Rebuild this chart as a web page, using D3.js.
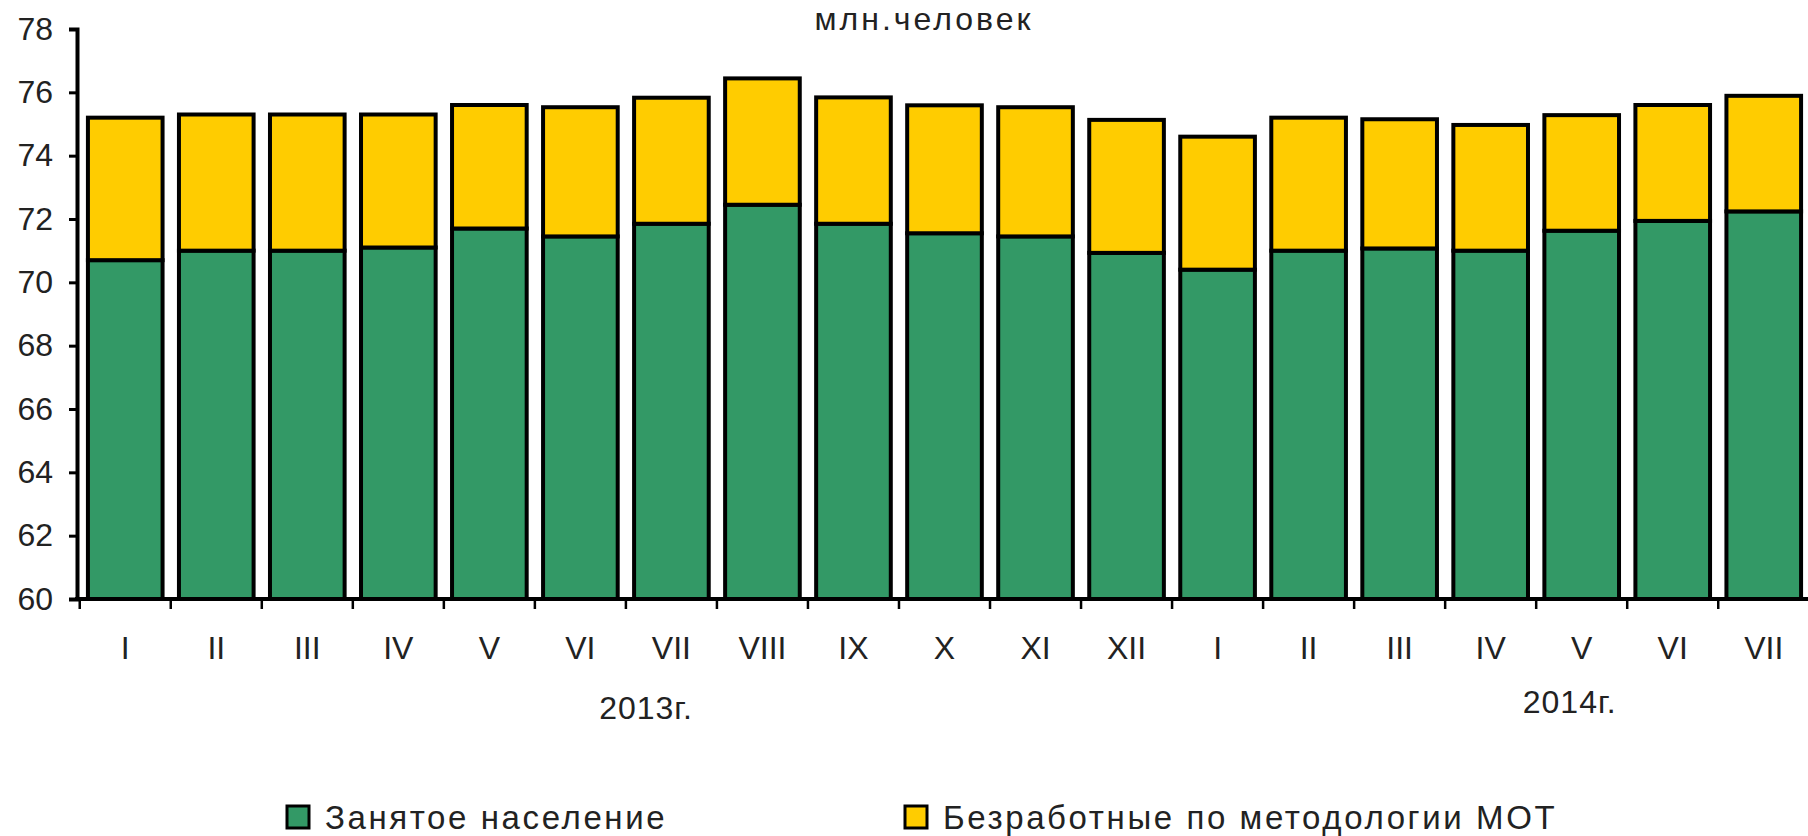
<!DOCTYPE html>
<html>
<head>
<meta charset="utf-8">
<script src="https://cdn.jsdelivr.net/npm/d3@7"></script>
<style>
  html, body { margin: 0; padding: 0; background: #ffffff; }
  svg { display: block; }
  text { font-family: "Liberation Sans", Arial, sans-serif; fill: #222222; }
</style>
</head>
<body>
<svg id="chart" width="1808" height="836"></svg>
<script>
// ---- data ----
const months = ["I","II","III","IV","V","VI","VII","VIII","IX","X","XI","XII",
                "I","II","III","IV","V","VI","VII"];
const employed = [70.7, 71.0, 71.0, 71.1, 71.7, 71.45, 71.85, 72.45, 71.85, 71.55, 71.45, 70.93,
                  70.4, 71.0, 71.07, 71.0, 71.63, 71.94, 72.24];
const unemployed = [4.5, 4.3, 4.3, 4.2, 3.9, 4.08, 3.98, 3.99, 3.99, 4.04, 4.08, 4.2,
                    4.2, 4.2, 4.08, 3.97, 3.65, 3.66, 3.65];
const yTicks = [60, 62, 64, 66, 68, 70, 72, 74, 76, 78];
const yearLabels = ["2013г.", "2014г."];
const seriesNames = ["Занятое население", "Безработные по методологии МОТ"];
const unitLabel = "млн.человек";

// ---- layout ----
const svg = d3.select("#chart");
const plotLeft = 77, plotRight = 1812, plotTop = 29, plotBottom = 599;
const colors = ["#339966", "#FFCC00"];

const x = d3.scaleBand()
  .domain(d3.range(months.length))
  .range([plotLeft, plotRight])
  .paddingInner(0.18)
  .paddingOuter(0.12);
const y = d3.scaleLinear().domain([60, 78]).range([plotBottom, plotTop]);

const rows = months.map((m, i) => ({ i, m, emp: employed[i], unemp: unemployed[i] }));
const stacked = d3.stack().keys(["emp", "unemp"])(rows);

// bars
const g = svg.append("g");
stacked.forEach((s, si) => {
  g.selectAll(null).data(s).enter().append("rect")
    .attr("x", d => x(d.data.i))
    .attr("width", x.bandwidth())
    .attr("y", d => y(d[1]))
    .attr("height", d => y(Math.max(d[0], 60)) - y(d[1]))
    .attr("fill", colors[si])
    .attr("stroke", "#000")
    .attr("stroke-width", 4);
});

// y axis
const yAxis = d3.axisLeft(y).tickValues(yTicks).tickSize(8).tickPadding(16).tickFormat(d3.format("d"));
const ya = svg.append("g").attr("transform", `translate(${plotLeft},0)`).call(yAxis);
ya.select(".domain").attr("stroke", "#000").attr("stroke-width", 4);
ya.selectAll(".tick line").attr("stroke", "#000").attr("stroke-width", 3);
ya.selectAll(".tick text").style("font-size", "32px").attr("fill", "#222222")
  .style("font-family", "'Liberation Sans', Arial, sans-serif");

// x axis line
svg.append("line").attr("x1", plotLeft - 2).attr("x2", 1808).attr("y1", plotBottom).attr("y2", plotBottom)
  .attr("stroke", "#000").attr("stroke-width", 4);

// x ticks at category boundaries
const gap = x.step() - x.bandwidth();
const boundary = i => (i === months.length ? x(i - 1) + x.bandwidth() + gap / 2 : x(i) - gap / 2);
svg.append("g").selectAll("line").data(d3.range(months.length + 1)).enter().append("line")
  .attr("x1", boundary).attr("x2", boundary)
  .attr("y1", plotBottom).attr("y2", plotBottom + 10)
  .attr("stroke", "#000").attr("stroke-width", 2.5);

// x labels
svg.append("g").selectAll("text").data(rows).enter().append("text")
  .attr("x", d => x(d.i) + x.bandwidth() / 2)
  .attr("y", 659)
  .attr("text-anchor", "middle")
  .style("font-size", "32px")
  .text(d => d.m);

// year labels
svg.append("text").attr("x", x(6) + 12).attr("y", 719).attr("text-anchor", "middle")
  .style("font-size", "32px").style("letter-spacing", "1px").text(yearLabels[0]);
svg.append("text").attr("x", x(16) + x.bandwidth() / 2 - 12).attr("y", 713).attr("text-anchor", "middle")
  .style("font-size", "32px").style("letter-spacing", "1px").text(yearLabels[1]);

// title
svg.append("text").attr("x", 924).attr("y", 30).attr("text-anchor", "middle")
  .style("font-size", "32px").style("letter-spacing", "3px").text(unitLabel);

// legend
const legendX = [287, 905];
seriesNames.forEach((name, i) => {
  svg.append("rect").attr("x", legendX[i]).attr("y", 806).attr("width", 22).attr("height", 22)
    .attr("fill", colors[i]).attr("stroke", "#000").attr("stroke-width", 3);
  svg.append("text").attr("x", legendX[i] + 38).attr("y", 829)
    .style("font-size", "33px").style("letter-spacing", "2.6px").text(name);
});
</script>
</body>
</html>
